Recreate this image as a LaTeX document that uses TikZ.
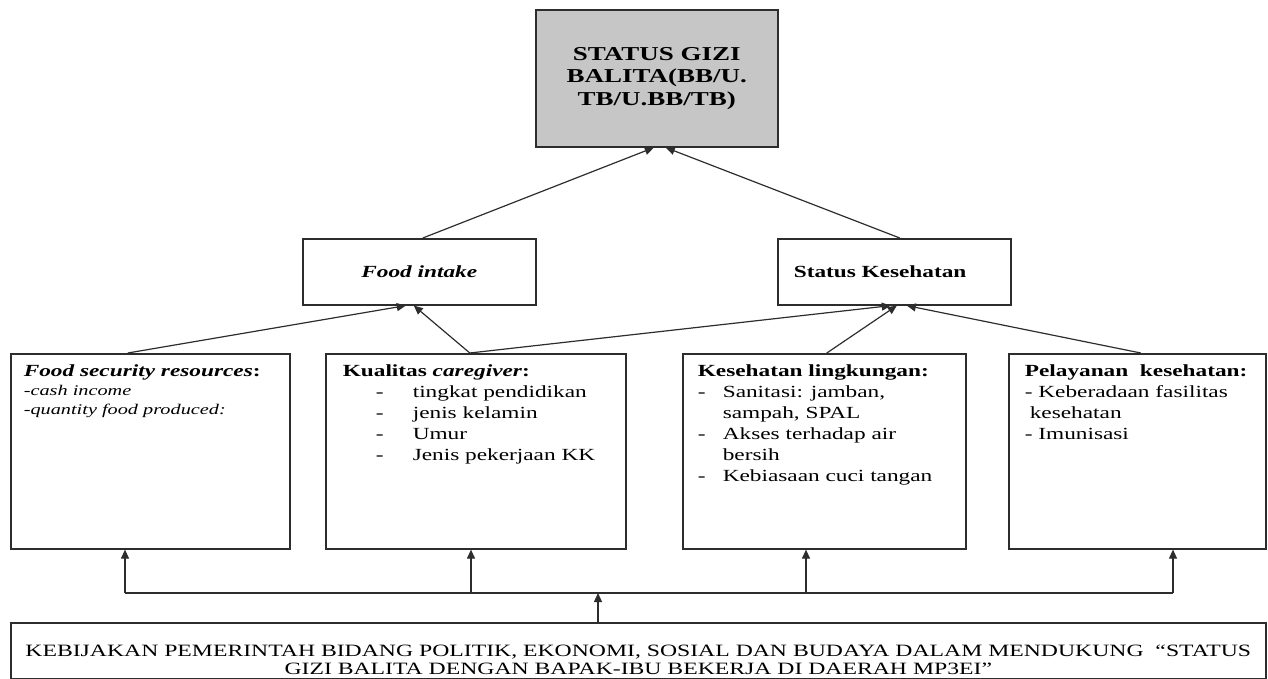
\documentclass[tikz,border=0pt]{standalone}
\usepackage{fontspec}
\setmainfont{Liberation Serif}[FakeStretch=1.37]
\usetikzlibrary{arrows.meta}
\definecolor{boxgray}{RGB}{198,198,198}
\definecolor{linegray}{RGB}{45,45,45}

\begin{document}
\begin{tikzpicture}[x=1pt,y=-1pt,>={Triangle[length=9pt,width=8pt]},
    panel/.style={draw=linegray,line width=1.6pt,anchor=north west,inner ysep=11pt,font=\fontsize{17}{21}\selectfont},
    arr/.style={->,draw=linegray,line width=1.2pt}]
  \useasboundingbox (0,0) rectangle (1268,678);
  \node[draw=linegray,line width=1.6pt,fill=boxgray,anchor=north west,minimum width=242pt,minimum height=137pt,align=center,font=\fontsize{19.7}{22.5}\selectfont\bfseries] (gizi) at (535,9) {STATUS GIZI\\BALITA(BB/U.\\TB/U.BB/TB)};
  \node[draw=linegray,line width=1.6pt,anchor=north west,minimum width=233pt,minimum height=66pt,font=\fontsize{17}{21}\selectfont\bfseries\itshape] (intake) at (302,238) {Food intake};
  \node[draw=linegray,line width=1.6pt,anchor=north west,text width=201pt,inner xsep=16pt,align=left,minimum height=66pt,font=\fontsize{17}{21}\selectfont\bfseries] (sehat) at (777,238) {Status Kesehatan};
  % the four factor boxes
  \node[panel,inner xsep=13pt] (pangan) at (10,353) {\parbox[t][173pt][t]{253pt}{%
      \textbf{\textit{Food security resources}:}\par
      {\fontsize{14.8}{19}\selectfont\itshape -cash income\\-quantity food produced:\par}}};
  \node[panel,inner xsep=17pt] (kualitas) at (325,353) {\parbox[t][173pt][t]{266pt}{%
      \textbf{Kualitas \textit{caregiver}:}\\
      \hspace*{33pt}\makebox[37pt][l]{-}tingkat pendidikan\\
      \hspace*{33pt}\makebox[37pt][l]{-}jenis kelamin\\
      \hspace*{33pt}\makebox[37pt][l]{-}Umur\\
      \hspace*{33pt}\makebox[37pt][l]{-}Jenis pekerjaan KK}};
  \node[panel,inner xsep=15pt] (lingkungan) at (682,353) {\parbox[t][173pt][t]{253pt}{%
      \textbf{Kesehatan lingkungan:}\\
      \makebox[25pt][l]{-}Sanitasi: jamban,\\
      \hspace*{25pt}sampah, SPAL\\
      \makebox[25pt][l]{-}Akses terhadap air\\
      \hspace*{25pt}bersih\\
      \makebox[25pt][l]{-}Kebiasaan cuci tangan}};
  \node[panel,inner xsep=16pt] (layanan) at (1008,353) {\parbox[t][173pt][t]{225pt}{%
      \mbox{\textbf{Pelayanan~ kesehatan:}}\\
      - Keberadaan fasilitas\\
      \hspace*{5pt}kesehatan\\
      - Imunisasi}};
  \node[panel,inner xsep=10pt,inner ysep=22pt,font=\fontsize{17.3}{18}\selectfont] (kebijakan) at (10,622) {\parbox[t][11pt][t]{1235pt}{\centering
      KEBIJAKAN PEMERINTAH BIDANG POLITIK, EKONOMI, SOSIAL DAN BUDAYA DALAM MENDUKUNG~ “STATUS\\
      GIZI BALITA DENGAN BAPAK-IBU BEKERJA DI DAERAH MP3EI”}};
  % arrows upwards
  \draw[arr] ([xshift=3.5pt]intake.north) -- ([xshift=-3pt]gizi.south);
  \draw[arr] ([xshift=5.5pt]sehat.north) -- ([xshift=9pt]gizi.south);
  \draw[arr] ([xshift=-22.5pt]pangan.north) -- ([xshift=-13.5pt]intake.south);
  \draw[arr] ([xshift=-6pt]kualitas.north) -- ([xshift=-5.5pt]intake.south);
  \draw[arr] ([xshift=-6pt]kualitas.north) -- ([xshift=-3.5pt]sehat.south);
  \draw[arr] ([xshift=2.5pt]lingkungan.north) -- ([xshift=2.5pt]sehat.south);
  \draw[arr] ([xshift=3.5pt]layanan.north) -- ([xshift=12.5pt]sehat.south);
  % policy line
  \coordinate (bus) at (598,593);
  \coordinate (b1) at (125,593);
  \coordinate (b2) at (471,593);
  \coordinate (b3) at (806,593);
  \coordinate (b4) at (1173,593);
  \draw[draw=linegray,line width=1.2pt] (b1) -- (b4);
  \draw[arr] (kebijakan.north -| bus) -- (bus);
  \foreach \c/\n in {b1/pangan,b2/kualitas,b3/lingkungan,b4/layanan}
    \draw[arr] (\c) -- (\c |- \n.south);
\end{tikzpicture}
\end{document}
